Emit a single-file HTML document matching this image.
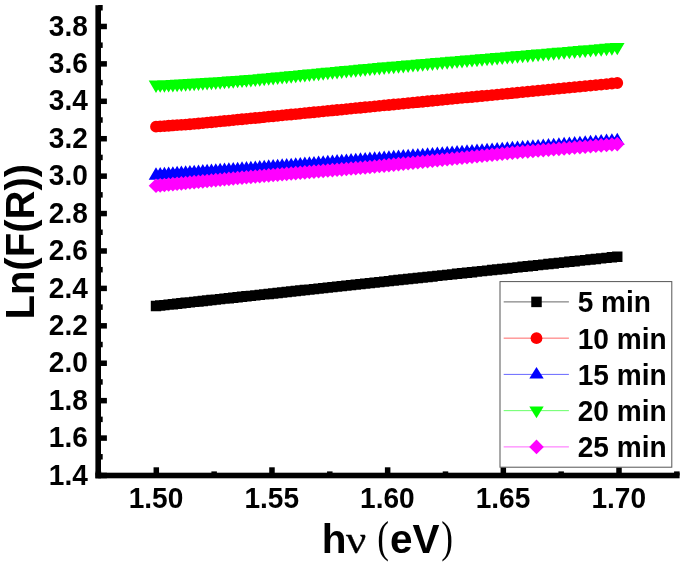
<!DOCTYPE html>
<html><head><meta charset="utf-8"><title>Ln(F(R)) vs hv</title>
<style>
html,body{margin:0;padding:0;background:#fff;}
body{width:685px;height:569px;overflow:hidden;}
svg{display:block;will-change:transform;}
text{font-family:"Liberation Sans",sans-serif;font-weight:bold;fill:#000;}
.sf{font-family:"Liberation Serif",serif;font-weight:normal;}
</style></head><body>
<svg width="685" height="569" viewBox="0 0 685 569">
<rect width="685" height="569" fill="#fff"/>
<path d="M150.8 300.78h10.4v10.4h-10.4zM155 300.33h10.4v10.4h-10.4zM159.22 299.88h10.4v10.4h-10.4zM163.44 299.43h10.4v10.4h-10.4zM167.67 298.98h10.4v10.4h-10.4zM171.92 298.52h10.4v10.4h-10.4zM176.17 298.07h10.4v10.4h-10.4zM180.43 297.61h10.4v10.4h-10.4zM184.71 297.15h10.4v10.4h-10.4zM188.99 296.7h10.4v10.4h-10.4zM193.29 296.24h10.4v10.4h-10.4zM197.6 295.78h10.4v10.4h-10.4zM201.91 295.32h10.4v10.4h-10.4zM206.24 294.85h10.4v10.4h-10.4zM210.58 294.39h10.4v10.4h-10.4zM214.93 293.93h10.4v10.4h-10.4zM219.29 293.46h10.4v10.4h-10.4zM223.66 292.99h10.4v10.4h-10.4zM228.04 292.52h10.4v10.4h-10.4zM232.43 292.05h10.4v10.4h-10.4zM236.83 291.58h10.4v10.4h-10.4zM241.25 291.11h10.4v10.4h-10.4zM245.67 290.64h10.4v10.4h-10.4zM250.11 290.17h10.4v10.4h-10.4zM254.55 289.69h10.4v10.4h-10.4zM259.01 289.21h10.4v10.4h-10.4zM263.48 288.74h10.4v10.4h-10.4zM267.96 288.26h10.4v10.4h-10.4zM272.45 287.78h10.4v10.4h-10.4zM276.95 287.3h10.4v10.4h-10.4zM281.47 286.81h10.4v10.4h-10.4zM285.99 286.33h10.4v10.4h-10.4zM290.53 285.85h10.4v10.4h-10.4zM295.08 285.36h10.4v10.4h-10.4zM299.64 284.87h10.4v10.4h-10.4zM304.21 284.38h10.4v10.4h-10.4zM308.79 283.89h10.4v10.4h-10.4zM313.38 283.4h10.4v10.4h-10.4zM317.99 282.91h10.4v10.4h-10.4zM322.61 282.42h10.4v10.4h-10.4zM327.24 281.92h10.4v10.4h-10.4zM331.88 281.43h10.4v10.4h-10.4zM336.53 280.93h10.4v10.4h-10.4zM341.2 280.43h10.4v10.4h-10.4zM345.87 279.93h10.4v10.4h-10.4zM350.56 279.43h10.4v10.4h-10.4zM355.26 278.93h10.4v10.4h-10.4zM359.97 278.42h10.4v10.4h-10.4zM364.7 277.92h10.4v10.4h-10.4zM369.44 277.41h10.4v10.4h-10.4zM374.18 276.91h10.4v10.4h-10.4zM378.95 276.4h10.4v10.4h-10.4zM383.72 275.89h10.4v10.4h-10.4zM388.51 275.37h10.4v10.4h-10.4zM393.3 274.86h10.4v10.4h-10.4zM398.11 274.35h10.4v10.4h-10.4zM402.94 273.83h10.4v10.4h-10.4zM407.77 273.32h10.4v10.4h-10.4zM412.62 272.8h10.4v10.4h-10.4zM417.48 272.28h10.4v10.4h-10.4zM422.36 271.76h10.4v10.4h-10.4zM427.24 271.23h10.4v10.4h-10.4zM432.14 270.71h10.4v10.4h-10.4zM437.05 270.19h10.4v10.4h-10.4zM441.98 269.66h10.4v10.4h-10.4zM446.92 269.13h10.4v10.4h-10.4zM451.87 268.6h10.4v10.4h-10.4zM456.83 268.07h10.4v10.4h-10.4zM461.81 267.54h10.4v10.4h-10.4zM466.8 267.01h10.4v10.4h-10.4zM471.8 266.47h10.4v10.4h-10.4zM476.82 265.94h10.4v10.4h-10.4zM481.85 265.4h10.4v10.4h-10.4zM486.89 264.86h10.4v10.4h-10.4zM491.95 264.32h10.4v10.4h-10.4zM497.02 263.78h10.4v10.4h-10.4zM502.1 263.23h10.4v10.4h-10.4zM507.2 262.69h10.4v10.4h-10.4zM512.31 262.14h10.4v10.4h-10.4zM517.43 261.6h10.4v10.4h-10.4zM522.57 261.05h10.4v10.4h-10.4zM527.72 260.5h10.4v10.4h-10.4zM532.89 259.94h10.4v10.4h-10.4zM538.07 259.39h10.4v10.4h-10.4zM543.26 258.84h10.4v10.4h-10.4zM548.47 258.28h10.4v10.4h-10.4zM553.69 257.72h10.4v10.4h-10.4zM558.92 257.16h10.4v10.4h-10.4zM564.17 256.6h10.4v10.4h-10.4zM569.44 256.04h10.4v10.4h-10.4zM574.72 255.47h10.4v10.4h-10.4zM580.01 254.91h10.4v10.4h-10.4zM585.32 254.34h10.4v10.4h-10.4zM590.64 253.77h10.4v10.4h-10.4zM595.97 253.2h10.4v10.4h-10.4zM601.32 252.63h10.4v10.4h-10.4zM606.69 252.06h10.4v10.4h-10.4zM612.07 251.48h10.4v10.4h-10.4z" fill="#000"/>
<path d="M150.1 126.63a5.9 5.9 0 1 0 11.8 0a5.9 5.9 0 1 0 -11.8 0zM154.3 126.34a5.9 5.9 0 1 0 11.8 0a5.9 5.9 0 1 0 -11.8 0zM158.52 126.04a5.9 5.9 0 1 0 11.8 0a5.9 5.9 0 1 0 -11.8 0zM162.74 125.75a5.9 5.9 0 1 0 11.8 0a5.9 5.9 0 1 0 -11.8 0zM166.97 125.46a5.9 5.9 0 1 0 11.8 0a5.9 5.9 0 1 0 -11.8 0zM171.22 125.16a5.9 5.9 0 1 0 11.8 0a5.9 5.9 0 1 0 -11.8 0zM175.47 124.87a5.9 5.9 0 1 0 11.8 0a5.9 5.9 0 1 0 -11.8 0zM179.73 124.57a5.9 5.9 0 1 0 11.8 0a5.9 5.9 0 1 0 -11.8 0zM184.01 124.28a5.9 5.9 0 1 0 11.8 0a5.9 5.9 0 1 0 -11.8 0zM188.29 123.89a5.9 5.9 0 1 0 11.8 0a5.9 5.9 0 1 0 -11.8 0zM192.59 123.48a5.9 5.9 0 1 0 11.8 0a5.9 5.9 0 1 0 -11.8 0zM196.9 123.06a5.9 5.9 0 1 0 11.8 0a5.9 5.9 0 1 0 -11.8 0zM201.21 122.64a5.9 5.9 0 1 0 11.8 0a5.9 5.9 0 1 0 -11.8 0zM205.54 122.23a5.9 5.9 0 1 0 11.8 0a5.9 5.9 0 1 0 -11.8 0zM209.88 121.81a5.9 5.9 0 1 0 11.8 0a5.9 5.9 0 1 0 -11.8 0zM214.23 121.39a5.9 5.9 0 1 0 11.8 0a5.9 5.9 0 1 0 -11.8 0zM218.59 120.96a5.9 5.9 0 1 0 11.8 0a5.9 5.9 0 1 0 -11.8 0zM222.96 120.54a5.9 5.9 0 1 0 11.8 0a5.9 5.9 0 1 0 -11.8 0zM227.34 120.12a5.9 5.9 0 1 0 11.8 0a5.9 5.9 0 1 0 -11.8 0zM231.73 119.7a5.9 5.9 0 1 0 11.8 0a5.9 5.9 0 1 0 -11.8 0zM236.13 119.27a5.9 5.9 0 1 0 11.8 0a5.9 5.9 0 1 0 -11.8 0zM240.55 118.84a5.9 5.9 0 1 0 11.8 0a5.9 5.9 0 1 0 -11.8 0zM244.97 118.42a5.9 5.9 0 1 0 11.8 0a5.9 5.9 0 1 0 -11.8 0zM249.41 117.98a5.9 5.9 0 1 0 11.8 0a5.9 5.9 0 1 0 -11.8 0zM253.85 117.55a5.9 5.9 0 1 0 11.8 0a5.9 5.9 0 1 0 -11.8 0zM258.31 117.11a5.9 5.9 0 1 0 11.8 0a5.9 5.9 0 1 0 -11.8 0zM262.78 116.68a5.9 5.9 0 1 0 11.8 0a5.9 5.9 0 1 0 -11.8 0zM267.26 116.24a5.9 5.9 0 1 0 11.8 0a5.9 5.9 0 1 0 -11.8 0zM271.75 115.8a5.9 5.9 0 1 0 11.8 0a5.9 5.9 0 1 0 -11.8 0zM276.25 115.37a5.9 5.9 0 1 0 11.8 0a5.9 5.9 0 1 0 -11.8 0zM280.77 114.92a5.9 5.9 0 1 0 11.8 0a5.9 5.9 0 1 0 -11.8 0zM285.29 114.48a5.9 5.9 0 1 0 11.8 0a5.9 5.9 0 1 0 -11.8 0zM289.83 114.04a5.9 5.9 0 1 0 11.8 0a5.9 5.9 0 1 0 -11.8 0zM294.38 113.6a5.9 5.9 0 1 0 11.8 0a5.9 5.9 0 1 0 -11.8 0zM298.94 113.15a5.9 5.9 0 1 0 11.8 0a5.9 5.9 0 1 0 -11.8 0zM303.51 112.71a5.9 5.9 0 1 0 11.8 0a5.9 5.9 0 1 0 -11.8 0zM308.09 112.26a5.9 5.9 0 1 0 11.8 0a5.9 5.9 0 1 0 -11.8 0zM312.68 111.81a5.9 5.9 0 1 0 11.8 0a5.9 5.9 0 1 0 -11.8 0zM317.29 111.36a5.9 5.9 0 1 0 11.8 0a5.9 5.9 0 1 0 -11.8 0zM321.91 110.91a5.9 5.9 0 1 0 11.8 0a5.9 5.9 0 1 0 -11.8 0zM326.54 110.46a5.9 5.9 0 1 0 11.8 0a5.9 5.9 0 1 0 -11.8 0zM331.18 110.01a5.9 5.9 0 1 0 11.8 0a5.9 5.9 0 1 0 -11.8 0zM335.83 109.56a5.9 5.9 0 1 0 11.8 0a5.9 5.9 0 1 0 -11.8 0zM340.5 109.1a5.9 5.9 0 1 0 11.8 0a5.9 5.9 0 1 0 -11.8 0zM345.17 108.65a5.9 5.9 0 1 0 11.8 0a5.9 5.9 0 1 0 -11.8 0zM349.86 108.19a5.9 5.9 0 1 0 11.8 0a5.9 5.9 0 1 0 -11.8 0zM354.56 107.73a5.9 5.9 0 1 0 11.8 0a5.9 5.9 0 1 0 -11.8 0zM359.27 107.27a5.9 5.9 0 1 0 11.8 0a5.9 5.9 0 1 0 -11.8 0zM364 106.81a5.9 5.9 0 1 0 11.8 0a5.9 5.9 0 1 0 -11.8 0zM368.74 106.35a5.9 5.9 0 1 0 11.8 0a5.9 5.9 0 1 0 -11.8 0zM373.48 105.9a5.9 5.9 0 1 0 11.8 0a5.9 5.9 0 1 0 -11.8 0zM378.25 105.44a5.9 5.9 0 1 0 11.8 0a5.9 5.9 0 1 0 -11.8 0zM383.02 104.98a5.9 5.9 0 1 0 11.8 0a5.9 5.9 0 1 0 -11.8 0zM387.81 104.52a5.9 5.9 0 1 0 11.8 0a5.9 5.9 0 1 0 -11.8 0zM392.6 104.06a5.9 5.9 0 1 0 11.8 0a5.9 5.9 0 1 0 -11.8 0zM397.41 103.59a5.9 5.9 0 1 0 11.8 0a5.9 5.9 0 1 0 -11.8 0zM402.24 103.13a5.9 5.9 0 1 0 11.8 0a5.9 5.9 0 1 0 -11.8 0zM407.07 102.66a5.9 5.9 0 1 0 11.8 0a5.9 5.9 0 1 0 -11.8 0zM411.92 102.2a5.9 5.9 0 1 0 11.8 0a5.9 5.9 0 1 0 -11.8 0zM416.78 101.73a5.9 5.9 0 1 0 11.8 0a5.9 5.9 0 1 0 -11.8 0zM421.66 101.26a5.9 5.9 0 1 0 11.8 0a5.9 5.9 0 1 0 -11.8 0zM426.54 100.79a5.9 5.9 0 1 0 11.8 0a5.9 5.9 0 1 0 -11.8 0zM431.44 100.32a5.9 5.9 0 1 0 11.8 0a5.9 5.9 0 1 0 -11.8 0zM436.35 99.84a5.9 5.9 0 1 0 11.8 0a5.9 5.9 0 1 0 -11.8 0zM441.28 99.37a5.9 5.9 0 1 0 11.8 0a5.9 5.9 0 1 0 -11.8 0zM446.22 98.89a5.9 5.9 0 1 0 11.8 0a5.9 5.9 0 1 0 -11.8 0zM451.17 98.42a5.9 5.9 0 1 0 11.8 0a5.9 5.9 0 1 0 -11.8 0zM456.13 97.94a5.9 5.9 0 1 0 11.8 0a5.9 5.9 0 1 0 -11.8 0zM461.11 97.46a5.9 5.9 0 1 0 11.8 0a5.9 5.9 0 1 0 -11.8 0zM466.1 96.98a5.9 5.9 0 1 0 11.8 0a5.9 5.9 0 1 0 -11.8 0zM471.1 96.5a5.9 5.9 0 1 0 11.8 0a5.9 5.9 0 1 0 -11.8 0zM476.12 96.02a5.9 5.9 0 1 0 11.8 0a5.9 5.9 0 1 0 -11.8 0zM481.15 95.53a5.9 5.9 0 1 0 11.8 0a5.9 5.9 0 1 0 -11.8 0zM486.19 95.05a5.9 5.9 0 1 0 11.8 0a5.9 5.9 0 1 0 -11.8 0zM491.25 94.56a5.9 5.9 0 1 0 11.8 0a5.9 5.9 0 1 0 -11.8 0zM496.32 94.07a5.9 5.9 0 1 0 11.8 0a5.9 5.9 0 1 0 -11.8 0zM501.4 93.58a5.9 5.9 0 1 0 11.8 0a5.9 5.9 0 1 0 -11.8 0zM506.5 93.09a5.9 5.9 0 1 0 11.8 0a5.9 5.9 0 1 0 -11.8 0zM511.61 92.6a5.9 5.9 0 1 0 11.8 0a5.9 5.9 0 1 0 -11.8 0zM516.73 92.1a5.9 5.9 0 1 0 11.8 0a5.9 5.9 0 1 0 -11.8 0zM521.87 91.61a5.9 5.9 0 1 0 11.8 0a5.9 5.9 0 1 0 -11.8 0zM527.02 91.11a5.9 5.9 0 1 0 11.8 0a5.9 5.9 0 1 0 -11.8 0zM532.19 90.62a5.9 5.9 0 1 0 11.8 0a5.9 5.9 0 1 0 -11.8 0zM537.37 90.12a5.9 5.9 0 1 0 11.8 0a5.9 5.9 0 1 0 -11.8 0zM542.56 89.62a5.9 5.9 0 1 0 11.8 0a5.9 5.9 0 1 0 -11.8 0zM547.77 89.12a5.9 5.9 0 1 0 11.8 0a5.9 5.9 0 1 0 -11.8 0zM552.99 88.61a5.9 5.9 0 1 0 11.8 0a5.9 5.9 0 1 0 -11.8 0zM558.22 88.11a5.9 5.9 0 1 0 11.8 0a5.9 5.9 0 1 0 -11.8 0zM563.47 87.6a5.9 5.9 0 1 0 11.8 0a5.9 5.9 0 1 0 -11.8 0zM568.74 87.1a5.9 5.9 0 1 0 11.8 0a5.9 5.9 0 1 0 -11.8 0zM574.02 86.59a5.9 5.9 0 1 0 11.8 0a5.9 5.9 0 1 0 -11.8 0zM579.31 86.08a5.9 5.9 0 1 0 11.8 0a5.9 5.9 0 1 0 -11.8 0zM584.62 85.57a5.9 5.9 0 1 0 11.8 0a5.9 5.9 0 1 0 -11.8 0zM589.94 85.06a5.9 5.9 0 1 0 11.8 0a5.9 5.9 0 1 0 -11.8 0zM595.27 84.54a5.9 5.9 0 1 0 11.8 0a5.9 5.9 0 1 0 -11.8 0zM600.62 84.03a5.9 5.9 0 1 0 11.8 0a5.9 5.9 0 1 0 -11.8 0zM605.99 83.51a5.9 5.9 0 1 0 11.8 0a5.9 5.9 0 1 0 -11.8 0zM611.37 82.99a5.9 5.9 0 1 0 11.8 0a5.9 5.9 0 1 0 -11.8 0z" fill="#f00"/>
<path d="M156 167.33l7.3 12.4h-14.6zM160.2 167.04l7.3 12.4h-14.6zM164.42 166.74l7.3 12.4h-14.6zM168.64 166.45l7.3 12.4h-14.6zM172.87 166.16l7.3 12.4h-14.6zM177.12 165.86l7.3 12.4h-14.6zM181.37 165.57l7.3 12.4h-14.6zM185.63 165.27l7.3 12.4h-14.6zM189.91 164.97l7.3 12.4h-14.6zM194.19 164.68l7.3 12.4h-14.6zM198.49 164.38l7.3 12.4h-14.6zM202.8 164.08l7.3 12.4h-14.6zM207.11 163.78l7.3 12.4h-14.6zM211.44 163.48l7.3 12.4h-14.6zM215.78 163.18l7.3 12.4h-14.6zM220.13 162.87l7.3 12.4h-14.6zM224.49 162.57l7.3 12.4h-14.6zM228.86 162.27l7.3 12.4h-14.6zM233.24 161.96l7.3 12.4h-14.6zM237.63 161.66l7.3 12.4h-14.6zM242.03 161.35l7.3 12.4h-14.6zM246.45 161.05l7.3 12.4h-14.6zM250.87 160.73l7.3 12.4h-14.6zM255.31 160.39l7.3 12.4h-14.6zM259.75 160.05l7.3 12.4h-14.6zM264.21 159.71l7.3 12.4h-14.6zM268.68 159.37l7.3 12.4h-14.6zM273.16 159.02l7.3 12.4h-14.6zM277.65 158.68l7.3 12.4h-14.6zM282.15 158.33l7.3 12.4h-14.6zM286.67 157.99l7.3 12.4h-14.6zM291.19 157.64l7.3 12.4h-14.6zM295.73 157.29l7.3 12.4h-14.6zM300.28 156.95l7.3 12.4h-14.6zM304.84 156.6l7.3 12.4h-14.6zM309.41 156.25l7.3 12.4h-14.6zM313.99 155.89l7.3 12.4h-14.6zM318.58 155.54l7.3 12.4h-14.6zM323.19 155.19l7.3 12.4h-14.6zM327.81 154.83l7.3 12.4h-14.6zM332.44 154.48l7.3 12.4h-14.6zM337.08 154.12l7.3 12.4h-14.6zM341.73 153.77l7.3 12.4h-14.6zM346.4 153.41l7.3 12.4h-14.6zM351.07 153.05l7.3 12.4h-14.6zM355.76 152.69l7.3 12.4h-14.6zM360.46 152.33l7.3 12.4h-14.6zM365.17 151.97l7.3 12.4h-14.6zM369.9 151.61l7.3 12.4h-14.6zM374.64 151.25l7.3 12.4h-14.6zM379.38 150.89l7.3 12.4h-14.6zM384.15 150.53l7.3 12.4h-14.6zM388.92 150.17l7.3 12.4h-14.6zM393.71 149.81l7.3 12.4h-14.6zM398.5 149.45l7.3 12.4h-14.6zM403.31 149.09l7.3 12.4h-14.6zM408.14 148.73l7.3 12.4h-14.6zM412.97 148.36l7.3 12.4h-14.6zM417.82 148l7.3 12.4h-14.6zM422.68 147.63l7.3 12.4h-14.6zM427.56 147.26l7.3 12.4h-14.6zM432.44 146.9l7.3 12.4h-14.6zM437.34 146.53l7.3 12.4h-14.6zM442.25 146.16l7.3 12.4h-14.6zM447.18 145.79l7.3 12.4h-14.6zM452.12 145.41l7.3 12.4h-14.6zM457.07 145.04l7.3 12.4h-14.6zM462.03 144.67l7.3 12.4h-14.6zM467.01 144.29l7.3 12.4h-14.6zM472 143.92l7.3 12.4h-14.6zM477 143.54l7.3 12.4h-14.6zM482.02 143.16l7.3 12.4h-14.6zM487.05 142.78l7.3 12.4h-14.6zM492.09 142.4l7.3 12.4h-14.6zM497.15 142.02l7.3 12.4h-14.6zM502.22 141.64l7.3 12.4h-14.6zM507.3 141.26l7.3 12.4h-14.6zM512.4 140.87l7.3 12.4h-14.6zM517.51 140.49l7.3 12.4h-14.6zM522.63 140.09l7.3 12.4h-14.6zM527.77 139.69l7.3 12.4h-14.6zM532.92 139.29l7.3 12.4h-14.6zM538.09 138.89l7.3 12.4h-14.6zM543.27 138.49l7.3 12.4h-14.6zM548.46 138.08l7.3 12.4h-14.6zM553.67 137.68l7.3 12.4h-14.6zM558.89 137.27l7.3 12.4h-14.6zM564.12 136.86l7.3 12.4h-14.6zM569.37 136.45l7.3 12.4h-14.6zM574.64 136.04l7.3 12.4h-14.6zM579.92 135.63l7.3 12.4h-14.6zM585.21 135.22l7.3 12.4h-14.6zM590.52 134.8l7.3 12.4h-14.6zM595.84 134.39l7.3 12.4h-14.6zM601.17 133.97l7.3 12.4h-14.6zM606.52 133.56l7.3 12.4h-14.6zM611.89 133.14l7.3 12.4h-14.6zM617.27 132.72l7.3 12.4h-14.6z" fill="#00f"/>
<path d="M148.7 80.6h14.6l-7.3 12.4zM152.9 80.47h14.6l-7.3 12.4zM157.12 80.33h14.6l-7.3 12.4zM161.34 80.2h14.6l-7.3 12.4zM165.57 80.07h14.6l-7.3 12.4zM169.82 79.87h14.6l-7.3 12.4zM174.07 79.61h14.6l-7.3 12.4zM178.33 79.35h14.6l-7.3 12.4zM182.61 79.09h14.6l-7.3 12.4zM186.89 78.82h14.6l-7.3 12.4zM191.19 78.56h14.6l-7.3 12.4zM195.5 78.3h14.6l-7.3 12.4zM199.81 78.03h14.6l-7.3 12.4zM204.14 77.77h14.6l-7.3 12.4zM208.48 77.5h14.6l-7.3 12.4zM212.83 77.23h14.6l-7.3 12.4zM217.19 76.94h14.6l-7.3 12.4zM221.56 76.61h14.6l-7.3 12.4zM225.94 76.29h14.6l-7.3 12.4zM230.33 75.96h14.6l-7.3 12.4zM234.73 75.63h14.6l-7.3 12.4zM239.15 75.31h14.6l-7.3 12.4zM243.57 74.98h14.6l-7.3 12.4zM248.01 74.65h14.6l-7.3 12.4zM252.45 74.27h14.6l-7.3 12.4zM256.91 73.85h14.6l-7.3 12.4zM261.38 73.43h14.6l-7.3 12.4zM265.86 73.01h14.6l-7.3 12.4zM270.35 72.58h14.6l-7.3 12.4zM274.85 72.16h14.6l-7.3 12.4zM279.37 71.73h14.6l-7.3 12.4zM283.89 71.31h14.6l-7.3 12.4zM288.43 70.88h14.6l-7.3 12.4zM292.98 70.45h14.6l-7.3 12.4zM297.54 70.02h14.6l-7.3 12.4zM302.11 69.59h14.6l-7.3 12.4zM306.69 69.16h14.6l-7.3 12.4zM311.28 68.73h14.6l-7.3 12.4zM315.89 68.3h14.6l-7.3 12.4zM320.51 67.86h14.6l-7.3 12.4zM325.14 67.42h14.6l-7.3 12.4zM329.78 66.99h14.6l-7.3 12.4zM334.43 66.55h14.6l-7.3 12.4zM339.1 66.11h14.6l-7.3 12.4zM343.77 65.67h14.6l-7.3 12.4zM348.46 65.23h14.6l-7.3 12.4zM353.16 64.79h14.6l-7.3 12.4zM357.87 64.34h14.6l-7.3 12.4zM362.6 63.9h14.6l-7.3 12.4zM367.34 63.45h14.6l-7.3 12.4zM372.08 63.02h14.6l-7.3 12.4zM376.85 62.62h14.6l-7.3 12.4zM381.62 62.22h14.6l-7.3 12.4zM386.41 61.81h14.6l-7.3 12.4zM391.2 61.41h14.6l-7.3 12.4zM396.01 61h14.6l-7.3 12.4zM400.84 60.59h14.6l-7.3 12.4zM405.67 60.18h14.6l-7.3 12.4zM410.52 59.77h14.6l-7.3 12.4zM415.38 59.36h14.6l-7.3 12.4zM420.26 58.95h14.6l-7.3 12.4zM425.14 58.54h14.6l-7.3 12.4zM430.04 58.12h14.6l-7.3 12.4zM434.95 57.71h14.6l-7.3 12.4zM439.88 57.29h14.6l-7.3 12.4zM444.82 56.87h14.6l-7.3 12.4zM449.77 56.46h14.6l-7.3 12.4zM454.73 56.04h14.6l-7.3 12.4zM459.71 55.62h14.6l-7.3 12.4zM464.7 55.19h14.6l-7.3 12.4zM469.7 54.77h14.6l-7.3 12.4zM474.72 54.35h14.6l-7.3 12.4zM479.75 53.92h14.6l-7.3 12.4zM484.79 53.49h14.6l-7.3 12.4zM489.85 53.07h14.6l-7.3 12.4zM494.92 52.64h14.6l-7.3 12.4zM500 52.21h14.6l-7.3 12.4zM505.1 51.78h14.6l-7.3 12.4zM510.21 51.35h14.6l-7.3 12.4zM515.33 50.91h14.6l-7.3 12.4zM520.47 50.48h14.6l-7.3 12.4zM525.62 50.04h14.6l-7.3 12.4zM530.79 49.61h14.6l-7.3 12.4zM535.97 49.17h14.6l-7.3 12.4zM541.16 48.73h14.6l-7.3 12.4zM546.37 48.29h14.6l-7.3 12.4zM551.59 47.85h14.6l-7.3 12.4zM556.82 47.4h14.6l-7.3 12.4zM562.07 46.96h14.6l-7.3 12.4zM567.34 46.52h14.6l-7.3 12.4zM572.62 46.07h14.6l-7.3 12.4zM577.91 45.62h14.6l-7.3 12.4zM583.22 45.17h14.6l-7.3 12.4zM588.54 44.72h14.6l-7.3 12.4zM593.87 44.27h14.6l-7.3 12.4zM599.22 43.82h14.6l-7.3 12.4zM604.59 43.37h14.6l-7.3 12.4zM609.97 42.91h14.6l-7.3 12.4z" fill="#0f0"/>
<path d="M148.7 185.74l7.3 -7.3l7.3 7.3l-7.3 7.3zM152.9 185.34l7.3 -7.3l7.3 7.3l-7.3 7.3zM157.12 184.95l7.3 -7.3l7.3 7.3l-7.3 7.3zM161.34 184.55l7.3 -7.3l7.3 7.3l-7.3 7.3zM165.57 184.15l7.3 -7.3l7.3 7.3l-7.3 7.3zM169.82 183.75l7.3 -7.3l7.3 7.3l-7.3 7.3zM174.07 183.35l7.3 -7.3l7.3 7.3l-7.3 7.3zM178.33 182.95l7.3 -7.3l7.3 7.3l-7.3 7.3zM182.61 182.55l7.3 -7.3l7.3 7.3l-7.3 7.3zM186.89 182.15l7.3 -7.3l7.3 7.3l-7.3 7.3zM191.19 181.74l7.3 -7.3l7.3 7.3l-7.3 7.3zM195.5 181.34l7.3 -7.3l7.3 7.3l-7.3 7.3zM199.81 180.93l7.3 -7.3l7.3 7.3l-7.3 7.3zM204.14 180.53l7.3 -7.3l7.3 7.3l-7.3 7.3zM208.48 180.12l7.3 -7.3l7.3 7.3l-7.3 7.3zM212.83 179.71l7.3 -7.3l7.3 7.3l-7.3 7.3zM217.19 179.3l7.3 -7.3l7.3 7.3l-7.3 7.3zM221.56 178.89l7.3 -7.3l7.3 7.3l-7.3 7.3zM225.94 178.48l7.3 -7.3l7.3 7.3l-7.3 7.3zM230.33 178.06l7.3 -7.3l7.3 7.3l-7.3 7.3zM234.73 177.65l7.3 -7.3l7.3 7.3l-7.3 7.3zM239.15 177.23l7.3 -7.3l7.3 7.3l-7.3 7.3zM243.57 176.83l7.3 -7.3l7.3 7.3l-7.3 7.3zM248.01 176.46l7.3 -7.3l7.3 7.3l-7.3 7.3zM252.45 176.1l7.3 -7.3l7.3 7.3l-7.3 7.3zM256.91 175.73l7.3 -7.3l7.3 7.3l-7.3 7.3zM261.38 175.36l7.3 -7.3l7.3 7.3l-7.3 7.3zM265.86 174.99l7.3 -7.3l7.3 7.3l-7.3 7.3zM270.35 174.62l7.3 -7.3l7.3 7.3l-7.3 7.3zM274.85 174.25l7.3 -7.3l7.3 7.3l-7.3 7.3zM279.37 173.87l7.3 -7.3l7.3 7.3l-7.3 7.3zM283.89 173.5l7.3 -7.3l7.3 7.3l-7.3 7.3zM288.43 173.13l7.3 -7.3l7.3 7.3l-7.3 7.3zM292.98 172.75l7.3 -7.3l7.3 7.3l-7.3 7.3zM297.54 172.38l7.3 -7.3l7.3 7.3l-7.3 7.3zM302.11 172l7.3 -7.3l7.3 7.3l-7.3 7.3zM306.69 171.62l7.3 -7.3l7.3 7.3l-7.3 7.3zM311.28 171.24l7.3 -7.3l7.3 7.3l-7.3 7.3zM315.89 170.86l7.3 -7.3l7.3 7.3l-7.3 7.3zM320.51 170.48l7.3 -7.3l7.3 7.3l-7.3 7.3zM325.14 170.1l7.3 -7.3l7.3 7.3l-7.3 7.3zM329.78 169.72l7.3 -7.3l7.3 7.3l-7.3 7.3zM334.43 169.33l7.3 -7.3l7.3 7.3l-7.3 7.3zM339.1 168.95l7.3 -7.3l7.3 7.3l-7.3 7.3zM343.77 168.56l7.3 -7.3l7.3 7.3l-7.3 7.3zM348.46 168.17l7.3 -7.3l7.3 7.3l-7.3 7.3zM353.16 167.79l7.3 -7.3l7.3 7.3l-7.3 7.3zM357.87 167.4l7.3 -7.3l7.3 7.3l-7.3 7.3zM362.6 167.01l7.3 -7.3l7.3 7.3l-7.3 7.3zM367.34 166.54l7.3 -7.3l7.3 7.3l-7.3 7.3zM372.08 166.06l7.3 -7.3l7.3 7.3l-7.3 7.3zM376.85 165.59l7.3 -7.3l7.3 7.3l-7.3 7.3zM381.62 165.11l7.3 -7.3l7.3 7.3l-7.3 7.3zM386.41 164.63l7.3 -7.3l7.3 7.3l-7.3 7.3zM391.2 164.15l7.3 -7.3l7.3 7.3l-7.3 7.3zM396.01 163.67l7.3 -7.3l7.3 7.3l-7.3 7.3zM400.84 163.19l7.3 -7.3l7.3 7.3l-7.3 7.3zM405.67 162.7l7.3 -7.3l7.3 7.3l-7.3 7.3zM410.52 162.22l7.3 -7.3l7.3 7.3l-7.3 7.3zM415.38 161.73l7.3 -7.3l7.3 7.3l-7.3 7.3zM420.26 161.24l7.3 -7.3l7.3 7.3l-7.3 7.3zM425.14 160.76l7.3 -7.3l7.3 7.3l-7.3 7.3zM430.04 160.27l7.3 -7.3l7.3 7.3l-7.3 7.3zM434.95 159.77l7.3 -7.3l7.3 7.3l-7.3 7.3zM439.88 159.28l7.3 -7.3l7.3 7.3l-7.3 7.3zM444.82 158.79l7.3 -7.3l7.3 7.3l-7.3 7.3zM449.77 158.29l7.3 -7.3l7.3 7.3l-7.3 7.3zM454.73 157.8l7.3 -7.3l7.3 7.3l-7.3 7.3zM459.71 157.3l7.3 -7.3l7.3 7.3l-7.3 7.3zM464.7 156.8l7.3 -7.3l7.3 7.3l-7.3 7.3zM469.7 156.3l7.3 -7.3l7.3 7.3l-7.3 7.3zM474.72 155.8l7.3 -7.3l7.3 7.3l-7.3 7.3zM479.75 155.3l7.3 -7.3l7.3 7.3l-7.3 7.3zM484.79 154.79l7.3 -7.3l7.3 7.3l-7.3 7.3zM489.85 154.29l7.3 -7.3l7.3 7.3l-7.3 7.3zM494.92 153.78l7.3 -7.3l7.3 7.3l-7.3 7.3zM500 153.27l7.3 -7.3l7.3 7.3l-7.3 7.3zM505.1 152.76l7.3 -7.3l7.3 7.3l-7.3 7.3zM510.21 152.25l7.3 -7.3l7.3 7.3l-7.3 7.3zM515.33 151.79l7.3 -7.3l7.3 7.3l-7.3 7.3zM520.47 151.37l7.3 -7.3l7.3 7.3l-7.3 7.3zM525.62 150.95l7.3 -7.3l7.3 7.3l-7.3 7.3zM530.79 150.53l7.3 -7.3l7.3 7.3l-7.3 7.3zM535.97 150.11l7.3 -7.3l7.3 7.3l-7.3 7.3zM541.16 149.68l7.3 -7.3l7.3 7.3l-7.3 7.3zM546.37 149.26l7.3 -7.3l7.3 7.3l-7.3 7.3zM551.59 148.83l7.3 -7.3l7.3 7.3l-7.3 7.3zM556.82 148.41l7.3 -7.3l7.3 7.3l-7.3 7.3zM562.07 147.98l7.3 -7.3l7.3 7.3l-7.3 7.3zM567.34 147.55l7.3 -7.3l7.3 7.3l-7.3 7.3zM572.62 147.12l7.3 -7.3l7.3 7.3l-7.3 7.3zM577.91 146.69l7.3 -7.3l7.3 7.3l-7.3 7.3zM583.22 146.26l7.3 -7.3l7.3 7.3l-7.3 7.3zM588.54 145.82l7.3 -7.3l7.3 7.3l-7.3 7.3zM593.87 145.39l7.3 -7.3l7.3 7.3l-7.3 7.3zM599.22 144.95l7.3 -7.3l7.3 7.3l-7.3 7.3zM604.59 144.52l7.3 -7.3l7.3 7.3l-7.3 7.3zM609.97 144.08l7.3 -7.3l7.3 7.3l-7.3 7.3z" fill="#f0f"/>
<g fill="#000">
<rect x="95.40" y="5.2" width="5.6" height="473.10"/>
<rect x="95.40" y="472.70" width="584.20" height="5.6"/>
<rect x="98.20" y="472.75" width="8.7" height="5.5"/>
<rect x="98.20" y="454.04" width="4.5" height="5.5"/>
<rect x="98.20" y="435.33" width="8.7" height="5.5"/>
<rect x="98.20" y="416.62" width="4.5" height="5.5"/>
<rect x="98.20" y="397.91" width="8.7" height="5.5"/>
<rect x="98.20" y="379.20" width="4.5" height="5.5"/>
<rect x="98.20" y="360.49" width="8.7" height="5.5"/>
<rect x="98.20" y="341.78" width="4.5" height="5.5"/>
<rect x="98.20" y="323.07" width="8.7" height="5.5"/>
<rect x="98.20" y="304.36" width="4.5" height="5.5"/>
<rect x="98.20" y="285.65" width="8.7" height="5.5"/>
<rect x="98.20" y="266.94" width="4.5" height="5.5"/>
<rect x="98.20" y="248.23" width="8.7" height="5.5"/>
<rect x="98.20" y="229.52" width="4.5" height="5.5"/>
<rect x="98.20" y="210.81" width="8.7" height="5.5"/>
<rect x="98.20" y="192.10" width="4.5" height="5.5"/>
<rect x="98.20" y="173.39" width="8.7" height="5.5"/>
<rect x="98.20" y="154.68" width="4.5" height="5.5"/>
<rect x="98.20" y="135.97" width="8.7" height="5.5"/>
<rect x="98.20" y="117.26" width="4.5" height="5.5"/>
<rect x="98.20" y="98.55" width="8.7" height="5.5"/>
<rect x="98.20" y="79.84" width="4.5" height="5.5"/>
<rect x="98.20" y="61.13" width="8.7" height="5.5"/>
<rect x="98.20" y="42.42" width="4.5" height="5.5"/>
<rect x="98.20" y="23.71" width="8.7" height="5.5"/>
<rect x="98.20" y="5.00" width="4.5" height="5.5"/>
<rect x="95.71" y="471.40" width="5.5" height="4.1"/>
<rect x="153.55" y="467.30" width="5.5" height="8.2"/>
<rect x="211.39" y="471.40" width="5.5" height="4.1"/>
<rect x="269.23" y="467.30" width="5.5" height="8.2"/>
<rect x="327.06" y="471.40" width="5.5" height="4.1"/>
<rect x="384.90" y="467.30" width="5.5" height="8.2"/>
<rect x="442.74" y="471.40" width="5.5" height="4.1"/>
<rect x="500.58" y="467.30" width="5.5" height="8.2"/>
<rect x="558.41" y="471.40" width="5.5" height="4.1"/>
<rect x="616.25" y="467.30" width="5.5" height="8.2"/>
<rect x="674.09" y="471.40" width="5.5" height="4.1"/>
</g>
<g font-size="29">
<text transform="translate(87.8,484.60) scale(0.968,1)" text-anchor="end">1.4</text>
<text transform="translate(87.8,447.18) scale(0.968,1)" text-anchor="end">1.6</text>
<text transform="translate(87.8,409.76) scale(0.968,1)" text-anchor="end">1.8</text>
<text transform="translate(87.8,372.34) scale(0.968,1)" text-anchor="end">2.0</text>
<text transform="translate(87.8,334.92) scale(0.968,1)" text-anchor="end">2.2</text>
<text transform="translate(87.8,297.50) scale(0.968,1)" text-anchor="end">2.4</text>
<text transform="translate(87.8,260.08) scale(0.968,1)" text-anchor="end">2.6</text>
<text transform="translate(87.8,222.66) scale(0.968,1)" text-anchor="end">2.8</text>
<text transform="translate(87.8,185.24) scale(0.968,1)" text-anchor="end">3.0</text>
<text transform="translate(87.8,147.82) scale(0.968,1)" text-anchor="end">3.2</text>
<text transform="translate(87.8,110.40) scale(0.968,1)" text-anchor="end">3.4</text>
<text transform="translate(87.8,72.98) scale(0.968,1)" text-anchor="end">3.6</text>
<text transform="translate(87.8,35.56) scale(0.968,1)" text-anchor="end">3.8</text>
<text transform="translate(156.00,508.3) scale(0.968,1)" text-anchor="middle">1.50</text>
<text transform="translate(271.68,508.3) scale(0.968,1)" text-anchor="middle">1.55</text>
<text transform="translate(387.35,508.3) scale(0.968,1)" text-anchor="middle">1.60</text>
<text transform="translate(503.02,508.3) scale(0.968,1)" text-anchor="middle">1.65</text>
<text transform="translate(618.70,508.3) scale(0.968,1)" text-anchor="middle">1.70</text>
</g>
<text transform="translate(33.5,319.6) rotate(-90)" font-size="40.1">Ln(F(R))</text>
<g font-size="40.5"><text x="321.8" y="552.5">h</text><text class="sf" transform="translate(346,552.5) scale(1.15,1)" font-size="39" stroke="#000" stroke-width="0.3">ν</text><text class="sf" transform="translate(377.3,552) scale(0.8,1)" font-size="44">(</text><text x="390" y="552.5">eV</text><text class="sf" transform="translate(441.3,552) scale(0.8,1)" font-size="44">)</text></g>
<rect x="500" y="281.6" width="171.8" height="185.6" fill="#fff" stroke="#555" stroke-width="1"/>
<line x1="503.7" y1="301.90" x2="568.9" y2="301.90" stroke="#000" stroke-width="1" stroke-opacity="0.6"/>
<rect x="531.25" y="296.65" width="10.5" height="10.5" fill="#000"/>
<text transform="translate(577.7,312.40) scale(0.968,1)" font-size="29">5 min</text>
<line x1="503.7" y1="338.15" x2="568.9" y2="338.15" stroke="#f00" stroke-width="1" stroke-opacity="0.6"/>
<circle cx="536.5" cy="338.15" r="5.9" fill="#f00"/>
<text transform="translate(577.7,348.65) scale(0.968,1)" font-size="29">10 min</text>
<line x1="503.7" y1="374.40" x2="568.9" y2="374.40" stroke="#00f" stroke-width="1" stroke-opacity="0.6"/>
<path d="M536.5 366.90l7.2 11.7h-14.4z" fill="#00f"/>
<text transform="translate(577.7,384.90) scale(0.968,1)" font-size="29">15 min</text>
<line x1="503.7" y1="410.65" x2="568.9" y2="410.65" stroke="#0f0" stroke-width="1" stroke-opacity="0.6"/>
<path d="M529.3 406.45h14.4l-7.2 11.7z" fill="#0f0"/>
<text transform="translate(577.7,421.15) scale(0.968,1)" font-size="29">20 min</text>
<line x1="503.7" y1="446.90" x2="568.9" y2="446.90" stroke="#f0f" stroke-width="1" stroke-opacity="0.6"/>
<path d="M529.2 446.90l7.3 -7.3l7.3 7.3l-7.3 7.3z" fill="#f0f"/>
<text transform="translate(577.7,457.40) scale(0.968,1)" font-size="29">25 min</text>
</svg>
</body></html>
